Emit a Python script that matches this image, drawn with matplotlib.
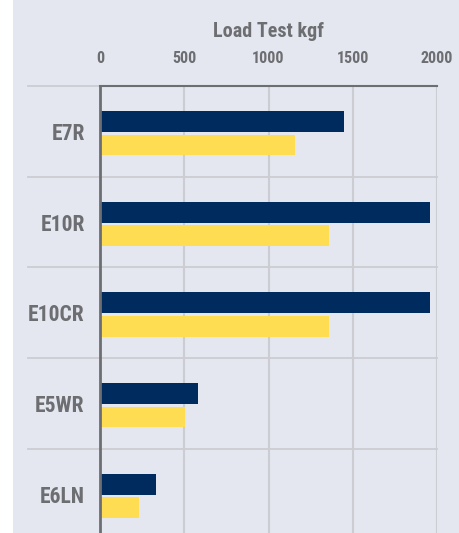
import matplotlib.pyplot as plt
from matplotlib.patches import Rectangle

models = ['E7R', 'E10R', 'E10CR', 'E5WR', 'E6LN']
load_navy = [1450, 1960, 1960, 580, 330]
load_yellow = [1155, 1360, 1360, 505, 230]
x_ticks = [0, 500, 1000, 1500, 2000]

BG = '#e4e7f0'
GRID = '#cbcdd3'
DARK = '#6d6e71'
NAVY = '#002b5f'
YELLOW = '#ffdd52'
FONT = ['Roboto Condensed', 'DejaVu Sans']

fig = plt.figure(figsize=(4.59, 5.33), dpi=100, facecolor='white')
fig.patches.append(Rectangle((13 / 459, 0), 1, 1, transform=fig.transFigure,
                             facecolor=BG, edgecolor='none', zorder=-10))

ax = fig.add_axes([100 / 459, -0.0122, 337 / 459, 0.8508])
ax.set_facecolor(BG)

pos = list(range(len(models)))
ax.barh([p - 0.11 for p in pos], load_navy, height=0.23, color=NAVY, zorder=3)
ax.barh([p + 0.15 for p in pos], load_yellow, height=0.23, color=YELLOW, zorder=3)

ax.set_xlim(0, 2000)
ax.set_ylim(len(models) - 0.5, -0.5)

# category separators reach out into the label column
for y in [p - 0.5 for p in pos]:
    ax.axhline(y, xmin=-0.2136, xmax=1, color=GRID, lw=1.3, clip_on=False, zorder=1)
for x in x_ticks[1:]:
    ax.axvline(x, color=GRID, lw=1.5, zorder=1)

ax.xaxis.tick_top()
ax.set_xticks(x_ticks)
ax.set_xticklabels([str(v) for v in x_ticks], family=FONT, fontweight='bold',
                   fontsize=11.5, color=DARK)
ax.tick_params(axis='x', length=0, pad=14.5)
ax.set_yticks(pos)
ax.set_yticklabels(models, family=FONT, fontweight='bold', fontsize=15.5, color=DARK)
ax.tick_params(axis='y', length=0, pad=11)

fig.text(268.5 / 459, 1 - 37 / 533, 'Load Test kgf', family=FONT, fontweight='bold',
         fontsize=14.5, color=DARK, ha='center', va='baseline')

for side in ['right', 'bottom']:
    ax.spines[side].set_visible(False)
ax.spines['top'].set_color(DARK)
ax.spines['top'].set_linewidth(1.5)
ax.spines['left'].set_color(DARK)
ax.spines['left'].set_linewidth(2)
ax.spines['top'].set_zorder(4)
ax.spines['left'].set_zorder(4)

fig.savefig('out.png', dpi=100, facecolor=fig.get_facecolor())
